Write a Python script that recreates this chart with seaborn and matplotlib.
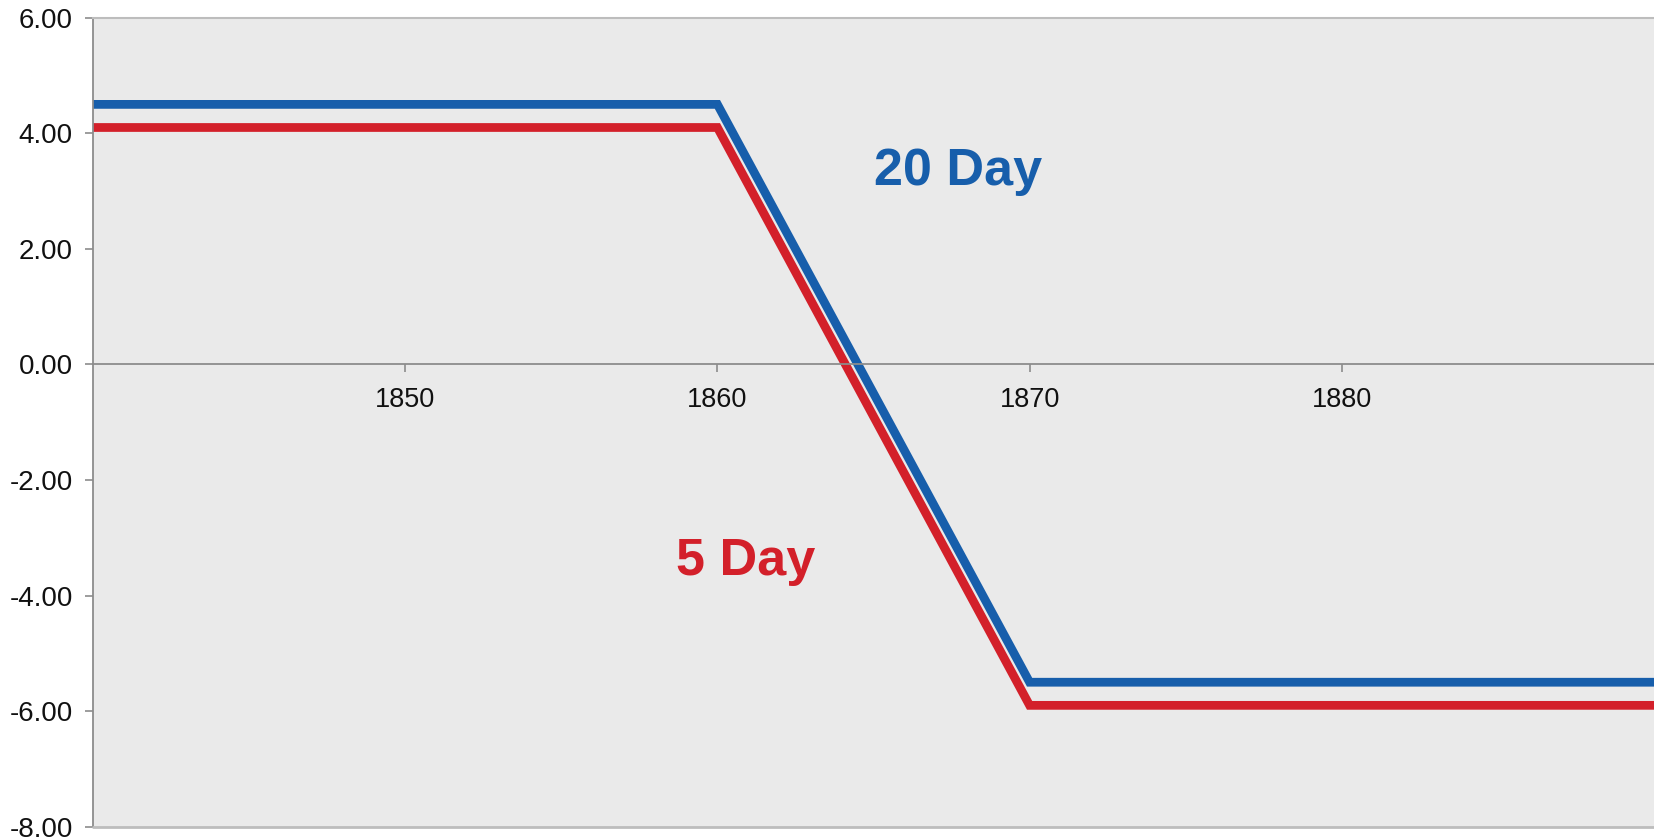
import matplotlib
matplotlib.use("Agg")
import matplotlib.pyplot as plt
from matplotlib.ticker import FormatStrFormatter, FixedLocator
import seaborn as sns
import pandas as pd

# Series values (breakpoints of each piecewise-linear curve)
years = [1840, 1860, 1870, 1890]
day20 = [4.5, 4.5, -5.5, -5.5]
day5 = [4.1, 4.1, -5.9, -5.9]

series_names = ["20 Day", "5 Day"]
series_colors = {"20 Day": "#175EAB", "5 Day": "#D3202A"}

x_ticks = [1850, 1860, 1870, 1880]
y_ticks = [6, 4, 2, 0, -2, -4, -6, -8]

# Label positions for the inline series names
label_pos = {"20 Day": (1867.7, 3.11), "5 Day": (1860.9, -3.64)}

df = pd.concat([
    pd.DataFrame({"year": years, "value": day20, "series": "20 Day"}),
    pd.DataFrame({"year": years, "value": day5, "series": "5 Day"}),
])

sns.set_theme(style="white")
plt.rcParams["font.family"] = ["Liberation Sans", "DejaVu Sans"]
plt.rcParams["axes.unicode_minus"] = False

fig = plt.figure(figsize=(16.54, 8.40), dpi=100)
ax = fig.add_axes([93 / 1654, 1 - 826.7 / 840, 1 - 93 / 1654, (826.7 - 17.7) / 840])
ax.set_facecolor("#EAEAEA")

sns.lineplot(
    data=df, x="year", y="value", hue="series",
    hue_order=["5 Day", "20 Day"], palette=series_colors,
    linewidth=6.3, legend=False, ax=ax, estimator=None, sort=False,
)
for line in ax.get_lines():
    line.set_solid_joinstyle("miter")
    line.set_solid_capstyle("butt")

ax.set_xlim(1840, 1890)
ax.set_ylim(-8, 6)
ax.xaxis.set_major_locator(FixedLocator(x_ticks))
ax.yaxis.set_major_locator(FixedLocator(y_ticks))
ax.yaxis.set_major_formatter(FormatStrFormatter("%.2f"))
ax.set_xlabel("")
ax.set_ylabel("")

# Spines: left axis and zero-line axis in mid gray, top frame light gray
ax.spines["right"].set_visible(False)
ax.spines["left"].set_color("#8C8C8C")
ax.spines["left"].set_linewidth(1.3)
ax.spines["bottom"].set_position(("data", 0))
ax.spines["bottom"].set_color("#8C8C8C")
ax.spines["bottom"].set_linewidth(1.3)
ax.spines["top"].set_color("#BDBDBD")
ax.spines["top"].set_linewidth(1.5)
ax.axhline(-8, color="#BDBDBD", linewidth=2.0, clip_on=False, zorder=3)

ax.tick_params(axis="y", which="major", left=True, length=6, width=1.2,
               color="#8C8C8C", pad=8.5, labelsize=20, labelcolor="#111111")
ax.tick_params(axis="x", which="major", bottom=True, length=6, width=1.2,
               color="#8C8C8C", pad=10.5, labelsize=19.5, labelcolor="#111111",
               direction="out")

for name in series_names:
    x, y = label_pos[name]
    ax.text(x, y, name, color=series_colors[name], fontsize=37.5,
            fontweight="bold", ha="center", va="baseline")

fig.savefig("out.png", dpi=100, facecolor="white")
